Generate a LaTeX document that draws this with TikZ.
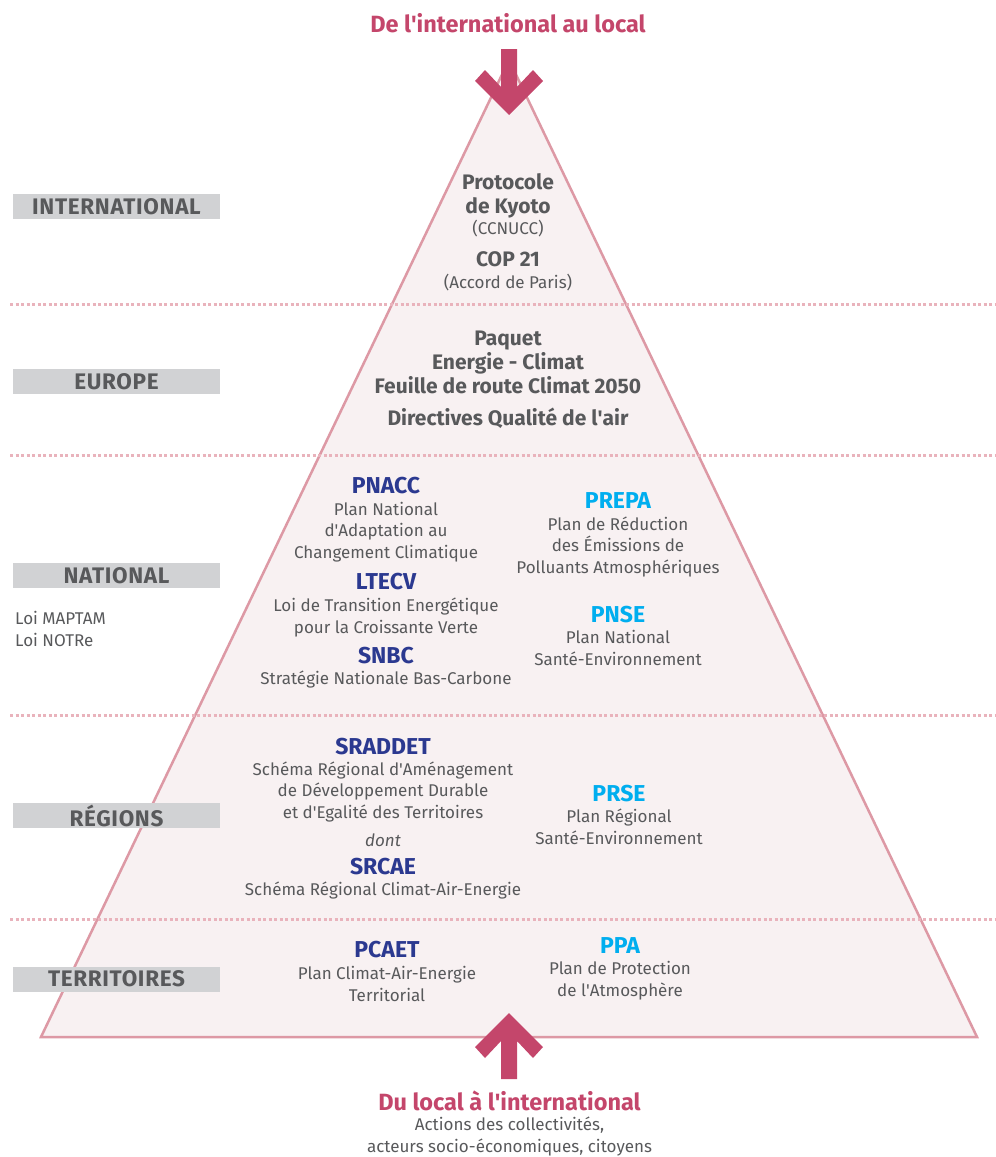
\documentclass[tikz,border=0pt]{standalone}
\usepackage{fontspec}
\setmainfont{Fira Sans}
\usetikzlibrary{positioning}

\definecolor{rose}{HTML}{C4466B}
\definecolor{roseline}{HTML}{DD99A5}
\definecolor{rosedot}{HTML}{E9B3BC}
\definecolor{rosefill}{HTML}{F8F1F2}
\definecolor{grisbox}{HTML}{D1D2D4}
\definecolor{gristxt}{HTML}{58595B}
\definecolor{bleufonce}{HTML}{2B3990}
\definecolor{bleuclair}{HTML}{00AEEF}

\tikzset{
	Fleche/.pic={
        code={
\fill[rose] (-8,-66)--(8,-66)--(8,-28)--(24,-45)--(34,-34)--(0,0)--(-34,-34)--(-24,-45)--(-8,-28)--cycle;
							}
	}
}
\tikzset{
	Niveau/.style={fill=grisbox, text=gristxt, minimum width=207pt, minimum height=25pt, inner sep=0pt,
		font=\bfseries\fontsize{22.5}{22.5}\selectfont\addfontfeature{LetterSpace=3}},
	Gras/.style={text=gristxt, align=center, inner sep=0pt, anchor=base,
		font=\bfseries\fontsize{21}{24}\selectfont},
	Sigle/.style={inner sep=0pt, anchor=base, font=\bfseries\fontsize{23}{24}\selectfont},
	Texte/.style={text=gristxt, align=center, inner sep=0pt, anchor=base,
		font=\fontsize{17}{21.5}\selectfont},
	Pointille/.style={rosedot, line width=3pt, dash pattern=on 3pt off 2.5pt}
}

\begin{document}
\begin{tikzpicture}[x=1pt,y=-1pt]
\useasboundingbox (0,0) rectangle (996,1157);

%Pyramide
\draw[roseline, fill=rosefill, line width=2.5pt] (509,60)--(977,1037)--(41,1037)--cycle;

%Pointilles
\draw[Pointille] (10,304)--(996,304);
\draw[Pointille] (10,455)--(996,455);
\draw[Pointille] (10,715)--(996,715);
\draw[Pointille] (10,919)--(996,919);

%Fleches
\path (509,115) pic {Fleche};
\path (509,1013) pic[rotate=180] {Fleche};

%Niveaux
\draw(116.5,206.5)node[Niveau](intl){INTERNATIONAL};
\draw(116.5,381.5)node[Niveau](europe){EUROPE};
\draw(116.5,575.5)node[Niveau](national){NATIONAL};
\draw(116.5,815.5)node[Niveau](regions){RÉGIONS};
\draw(116.5,979)node[Niveau](territoires){TERRITOIRES};
\draw(15,646)node[Texte,anchor=base west,align=left](lois){Loi MAPTAM\\Loi NOTRe};

%Titres
\draw(508,32)node[Sigle,text=rose,font=\bfseries\fontsize{23.5}{24}\selectfont](descente){De l\textquotesingle international au local};
\draw(509.5,1110)node[Sigle,text=rose,font=\bfseries\fontsize{23.5}{24}\selectfont](remontee){Du local à l\textquotesingle international};
\draw(509.5,1152)node[Texte](actions){Actions des collectivités,\\acteurs socio-économiques, citoyens};

%International
\draw(508,213)node[Gras](kyoto){Protocole\\de Kyoto};
\draw(508,234)node[Texte](ccnucc){(CCNUCC)};
\draw(508,266)node[Gras](cop){COP 21};
\draw(508,288)node[Texte](paris){(Accord de Paris)};

%Europe
\draw(508,393)node[Gras](paquet){Paquet\\Energie - Climat\\Feuille de route Climat 2050};
\draw(508,425)node[Gras](directives){Directives Qualité de l\textquotesingle air};

%National
\draw(386,493)node[Sigle,text=bleufonce](pnacc){PNACC};
\draw(386,558)node[Texte](pnaccTxt){Plan National\\d\textquotesingle Adaptation au\\Changement Climatique};
\draw(386,589)node[Sigle,text=bleufonce](ltecv){LTECV};
\draw(386,633)node[Texte](ltecvTxt){Loi de Transition Energétique\\pour la Croissante Verte};
\draw(386,663)node[Sigle,text=bleufonce](snbc){SNBC};
\draw(386,684)node[Texte](snbcTxt){Stratégie Nationale Bas-Carbone};
\draw(618,508)node[Sigle,text=bleuclair](prepa){PREPA};
\draw(618,573)node[Texte](prepaTxt){Plan de Réduction\\des Émissions de\\Polluants Atmosphériques};
\draw(618,622)node[Sigle,text=bleuclair](pnse){PNSE};
\draw(618,665)node[Texte](pnseTxt){Plan National\\Santé-Environnement};

%Regions
\draw(383,754)node[Sigle,text=bleufonce](sraddet){SRADDET};
\draw(383,818)node[Texte](sraddetTxt){Schéma Régional d\textquotesingle Aménagement\\de Développement Durable\\et d\textquotesingle Egalité des Territoires};
\draw(383,846)node[Texte,font=\itshape\fontsize{17}{21.5}\selectfont](dont){dont};
\draw(383,874)node[Sigle,text=bleufonce](srcae){SRCAE};
\draw(383,895)node[Texte](srcaeTxt){Schéma Régional Climat-Air-Energie};
\draw(619,801)node[Sigle,text=bleuclair](prse){PRSE};
\draw(619,844)node[Texte](prseTxt){Plan Régional\\Santé-Environnement};

%Territoires
\draw(387,957)node[Sigle,text=bleufonce](pcaet){PCAET};
\draw(387,1001)node[Texte](pcaetTxt){Plan Climat-Air-Energie\\Territorial};
\draw(620,953)node[Sigle,text=bleuclair](ppa){PPA};
\draw(620,996)node[Texte](ppaTxt){Plan de Protection\\de l\textquotesingle Atmosphère};
\end{tikzpicture}
\end{document}
